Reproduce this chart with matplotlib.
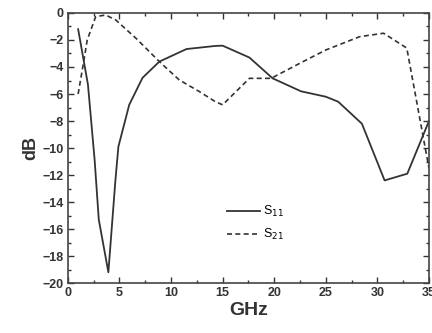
import numpy as np
import matplotlib
matplotlib.use("Agg")
import matplotlib.pyplot as plt
from matplotlib.ticker import MultipleLocator

# S11 (solid)
s11_ghz = [1.0, 1.95, 2.6, 3.0, 3.93, 4.6, 4.9, 5.95, 7.24, 8.87, 11.5, 14.3, 15.0, 17.6,
           19.85, 22.6, 25.0, 26.2, 28.5, 30.7, 32.9, 35.0]
s11_db = [-1.2, -5.3, -10.9, -15.3, -19.2, -12.5, -9.9, -6.8, -4.8, -3.6, -2.67, -2.44, -2.42, -3.3,
          -4.84, -5.8, -6.2, -6.57, -8.2, -12.4, -11.9, -8.0]

# S21 (dashed)
s21_ghz = [1.0, 1.56, 1.88, 2.7, 3.67, 4.65, 6.6, 8.87, 10.8, 12.77, 14.3, 15.0, 17.6, 19.7,
           22.8, 25.0, 28.3, 30.6, 32.85, 35.0]
s21_db = [-6.0, -3.5, -2.0, -0.27, -0.15, -0.52, -1.87, -3.6, -4.96, -5.83, -6.57, -6.8, -4.84, -4.84,
          -3.6, -2.74, -1.75, -1.5, -2.6, -11.5]

plt.rcParams['font.family'] = ['Liberation Sans', 'DejaVu Sans']

fig = plt.figure(figsize=(4.32, 3.33), dpi=100)
ax = fig.add_axes([0.157, 0.150, 0.836, 0.811])

ax.plot(s11_ghz, s11_db, color='#333333', lw=1.3, ls='-', label='S$_{11}$')
ax.plot(s21_ghz, s21_db, color='#333333', lw=1.2, ls=(0, (3, 2)), label='S$_{21}$')

ax.set_xlim(0, 35)
ax.set_ylim(-20, 0)
ax.xaxis.set_major_locator(MultipleLocator(5))
ax.xaxis.set_minor_locator(MultipleLocator(2.5))
ax.yaxis.set_major_locator(MultipleLocator(2))
ax.yaxis.set_minor_locator(MultipleLocator(1))
ax.tick_params(which='both', direction='in', top=True, right=True, labelsize=9,
               colors='#333333', width=1)
ax.tick_params(which='major', length=4, pad=3)
ax.tick_params(which='minor', length=2)
for lbl in ax.get_xticklabels() + ax.get_yticklabels():
    lbl.set_fontweight('bold')
for sp in ax.spines.values():
    sp.set_color('#444444')
    sp.set_linewidth(1.2)

ax.set_xlabel('GHz', fontsize=14, color='#333333', labelpad=2, fontweight='bold')
ax.set_ylabel('dB', fontsize=13, color='#333333', labelpad=2, fontweight='bold')

ax.legend(loc='lower left', bbox_to_anchor=(0.41, 0.11), frameon=False, fontsize=9,
          handlelength=2.6, handletextpad=0.3, labelspacing=0.6)

fig.savefig('out.png', dpi=100)
